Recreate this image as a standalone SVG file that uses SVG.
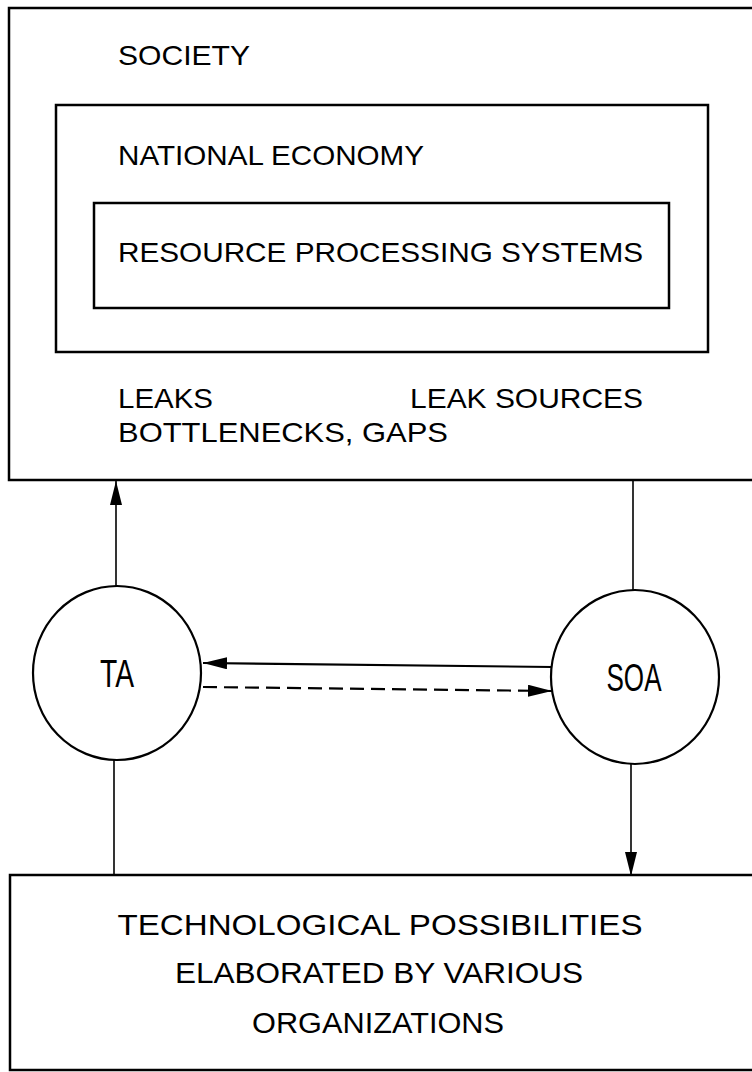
<svg xmlns="http://www.w3.org/2000/svg" width="752" height="1072" viewBox="0 0 752 1072">
<style>
.box{fill:none;stroke:#000;stroke-width:2.5}
.node{fill:#fff;stroke:#000;stroke-width:2.2}
.t{font-family:"Liberation Sans","DejaVu Sans",sans-serif;font-size:28px;fill:#000}
.tb{font-family:"Liberation Sans","DejaVu Sans",sans-serif;font-size:30px;fill:#000}
.tc{font-family:"Liberation Sans","DejaVu Sans",sans-serif;font-size:38px;fill:#000}
.c{fill:none;stroke:#000;stroke-width:1.6}
.d{fill:none;stroke:#000;stroke-width:2.2;stroke-dasharray:14 7}
</style>
<defs>
<marker id="ah" viewBox="0 0 24 12" refX="24" refY="6" markerWidth="24" markerHeight="12" markerUnits="userSpaceOnUse" orient="auto">
<path d="M0,0 L24,6 L0,12 Z" fill="#000"/>
</marker>
</defs>
<g id="society">
<rect class="box" x="9" y="8" width="760" height="472"/>
<text class="t" x="118" y="65" textLength="132" lengthAdjust="spacingAndGlyphs">SOCIETY</text>
<text class="t" x="118" y="408" textLength="95" lengthAdjust="spacingAndGlyphs">LEAKS</text>
<text class="t" x="410" y="408" textLength="233" lengthAdjust="spacingAndGlyphs">LEAK SOURCES</text>
<text class="t" x="118" y="442" textLength="330" lengthAdjust="spacingAndGlyphs">BOTTLENECKS, GAPS</text>
</g>
<g id="national-economy">
<rect class="box" x="56" y="105" width="652" height="247"/>
<text class="t" x="118" y="165" textLength="306" lengthAdjust="spacingAndGlyphs">NATIONAL ECONOMY</text>
</g>
<g id="resource-processing">
<rect class="box" x="94" y="203" width="575" height="105"/>
<text class="t" x="118" y="262" textLength="525" lengthAdjust="spacingAndGlyphs">RESOURCE PROCESSING SYSTEMS</text>
</g>
<g id="technological">
<rect class="box" x="10" y="875" width="760" height="195"/>
<text class="tb" x="380" y="935" text-anchor="middle" textLength="525" lengthAdjust="spacingAndGlyphs">TECHNOLOGICAL POSSIBILITIES</text>
<text class="tb" x="379" y="983" text-anchor="middle" textLength="408" lengthAdjust="spacingAndGlyphs">ELABORATED BY VARIOUS</text>
<text class="tb" x="378" y="1033" text-anchor="middle" textLength="252" lengthAdjust="spacingAndGlyphs">ORGANIZATIONS</text>
</g>
<g id="connectors">
<line class="c" x1="116" y1="587" x2="116" y2="481" marker-end="url(#ah)"/>
<line class="c" x1="633" y1="481" x2="633" y2="590"/>
<line class="c" x1="114" y1="760" x2="114" y2="875"/>
<line class="c" x1="631" y1="763" x2="631" y2="876" marker-end="url(#ah)"/>
<line class="c" style="stroke-width:2.2" x1="552" y1="667" x2="203" y2="663" marker-end="url(#ah)"/>
<line class="d" x1="203" y1="687" x2="552" y2="691" marker-end="url(#ah)"/>
</g>
<g id="ta">
<ellipse class="node" cx="117" cy="673" rx="84" ry="87"/>
<text class="tc" x="117" y="687" text-anchor="middle" textLength="34" lengthAdjust="spacingAndGlyphs">TA</text>
</g>
<g id="soa">
<ellipse class="node" cx="635" cy="677" rx="84" ry="87"/>
<text class="tc" x="634" y="691" text-anchor="middle" textLength="55" lengthAdjust="spacingAndGlyphs">SOA</text>
</g>
</svg>
